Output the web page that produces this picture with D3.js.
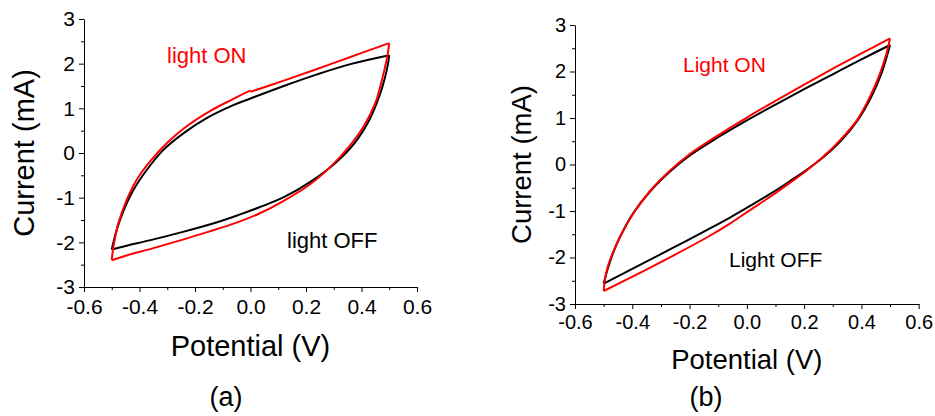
<!DOCTYPE html>
<html>
<head>
<meta charset="utf-8">
<script src="https://cdn.jsdelivr.net/npm/d3@7"></script>
<style>
  body { margin: 0; background: #fff; }
  text { font-family: "Liberation Sans", Arial, sans-serif; }
</style>
</head>
<body>
<div id="chart"></div>
<script>
// tick values
var yTicks = [-3, -2, -1, 0, 1, 2, 3]
var yMinor = [-2.5, -1.5, -0.5, 0.5, 1.5, 2.5]
var xTicks = [-0.6, -0.4, -0.2, 0.0, 0.2, 0.4, 0.6]
var xMinor = [-0.5, -0.3, -0.1, 0.1, 0.3, 0.5]

// panel (a): [potential V, current mA]; forward scan and reverse scan
var offFwdA = [[-0.50,-2.16],[-0.482,-1.72],[-0.458,-1.30],[-0.422,-0.83],[-0.374,-0.38],[-0.314,0.07],[-0.242,0.44],[-0.158,0.78],[-0.062,1.07],[0.0,1.22],[0.12,1.50],[0.24,1.76],[0.36,1.99],[0.50,2.19]]
var offRevA = [[0.50,2.19],[0.495,1.98],[0.485,1.70],[0.467,1.32],[0.43,0.76],[0.375,0.22],[0.305,-0.23],[0.22,-0.63],[0.12,-0.99],[0.03,-1.22],[-0.04,-1.38],[-0.12,-1.55],[-0.24,-1.76],[-0.36,-1.95],[-0.45,-2.08],[-0.50,-2.16]]
// light ON forward scan has a small step at 0 V
var onFwdLeftA = [[-0.50,-2.40],[-0.494,-2.10],[-0.476,-1.57],[-0.446,-1.05],[-0.41,-0.60],[-0.362,-0.19],[-0.302,0.22],[-0.23,0.60],[-0.146,0.94],[-0.062,1.21],[0.0,1.40]]
var onFwdRightA = [[0.0,1.37],[0.12,1.62],[0.24,1.88],[0.36,2.15],[0.50,2.46]]
var onRevA = [[0.50,2.46],[0.494,2.20],[0.484,1.90],[0.47,1.55],[0.45,1.12],[0.408,0.60],[0.352,0.12],[0.29,-0.30],[0.215,-0.70],[0.12,-1.07],[0.03,-1.36],[-0.05,-1.56],[-0.15,-1.76],[-0.25,-1.95],[-0.35,-2.13],[-0.45,-2.30],[-0.50,-2.40]]

// panel (b)
var offFwdB = [[-0.50,-2.56],[-0.484,-2.21],[-0.465,-1.87],[-0.443,-1.56],[-0.396,-1.04],[-0.338,-0.58],[-0.268,-0.15],[-0.198,0.20],[-0.105,0.57],[0.0,0.95],[0.1,1.29],[0.2,1.62],[0.3,1.94],[0.4,2.26],[0.50,2.57]]
var offRevB = [[0.50,2.57],[0.49,2.35],[0.47,1.96],[0.435,1.46],[0.388,0.96],[0.33,0.52],[0.27,0.17],[0.21,-0.11],[0.15,-0.36],[0.09,-0.60],[0.011,-0.89],[-0.059,-1.14],[-0.14,-1.41],[-0.257,-1.79],[-0.373,-2.16],[-0.50,-2.56]]
var onFwdB = [[-0.50,-2.72],[-0.496,-2.50],[-0.488,-2.25],[-0.47,-1.93],[-0.44,-1.52],[-0.396,-1.05],[-0.338,-0.57],[-0.268,-0.13],[-0.198,0.23],[-0.105,0.61],[0.0,1.01],[0.1,1.37],[0.2,1.72],[0.3,2.06],[0.4,2.39],[0.50,2.71]]
var onRevB = [[0.50,2.71],[0.488,2.40],[0.465,1.96],[0.43,1.46],[0.384,0.95],[0.325,0.52],[0.267,0.17],[0.209,-0.13],[0.151,-0.39],[0.092,-0.65],[0.011,-0.98],[-0.059,-1.27],[-0.14,-1.57],[-0.257,-1.96],[-0.373,-2.33],[-0.50,-2.72]]

var width = 935, height = 416

var svg = d3.select('#chart')
  .append('svg')
    .attr('width', width)
    .attr('height', height)

svg.append('rect').attr('width', width).attr('height', height).attr('fill', '#fff')

function drawPanel(p) {
  var x = d3.scaleLinear().domain([-0.6, 0.6]).range([p.left, p.right])
  var y = d3.scaleLinear().domain([-3, 3]).range([p.bottom, p.top])
  var g = svg.append('g')

  // minor ticks
  g.append('g')
    .attr('transform', 'translate(0,' + p.bottom + ')')
    .call(d3.axisBottom(x).tickValues(xMinor).tickSize(3).tickFormat(''))
    .call(a => a.select('.domain').remove())
  g.append('g')
    .attr('transform', 'translate(' + p.left + ',0)')
    .call(d3.axisLeft(y).tickValues(yMinor).tickSize(3).tickFormat(''))
    .call(a => a.select('.domain').remove())

  // major axes
  g.append('g')
    .attr('transform', 'translate(0,' + p.bottom + ')')
    .call(d3.axisBottom(x).tickValues(xTicks).tickSize(5).tickSizeOuter(0).tickPadding(p.xPad).tickFormat(d => d.toFixed(1)))
  g.append('g')
    .attr('transform', 'translate(' + p.left + ',0)')
    .call(d3.axisLeft(y).tickValues(yTicks).tickSize(5).tickSizeOuter(0).tickPadding(4).tickFormat(d => String(d)))

  g.selectAll('.tick text')
    .style('font-family', '"Liberation Sans", Arial, sans-serif')
    .style('font-size', p.tickFont + 'px')
    .attr('fill', '#000')
  g.selectAll('.domain, .tick line').attr('stroke', '#000')

  // curves, one path per scan branch
  var line = d3.line()
    .x(d => x(d[0]))
    .y(d => y(d[1]))
    .curve(d3.curveCatmullRom.alpha(0.5))

  p.series.forEach(function(s) {
    g.append('path')
      .attr('d', line(s.data))
      .attr('fill', 'none')
      .attr('stroke', s.color)
      .style('stroke-width', '2px')
      .attr('stroke-linejoin', 'round')
  })

  // axis titles
  g.append('text')
    .attr('x', (p.left + p.right) / 2)
    .attr('y', p.xTitleY)
    .attr('text-anchor', 'middle')
    .style('font-size', p.titleFont + 'px')
    .text('Potential (V)')
  g.append('text')
    .attr('transform', 'translate(' + p.yTitleX + ',' + (p.top + p.bottom) / 2 + ') rotate(-90)')
    .attr('text-anchor', 'middle')
    .style('font-size', p.titleFont + 'px')
    .text('Current (mA)')

  // labels
  g.append('text')
    .attr('x', p.onPos[0]).attr('y', p.onPos[1])
    .attr('fill', '#ff0000')
    .style('font-size', p.labelFont + 'px')
    .text(p.onText)
  g.append('text')
    .attr('x', p.offPos[0]).attr('y', p.offPos[1])
    .attr('fill', '#000')
    .style('font-size', p.labelFont + 'px')
    .text(p.offText)

  g.append('text')
    .attr('x', p.capPos[0]).attr('y', p.capPos[1])
    .attr('text-anchor', 'middle')
    .style('font-size', '27px')
    .text(p.caption)
}

drawPanel({
  left: 84, right: 417, top: 19, bottom: 287,
  xPad: 7, tickFont: 21, titleFont: 29, labelFont: 22,
  xTitleY: 356, yTitleX: 34,
  onPos: [167, 63], offPos: [287, 248], capPos: [226, 406],
  onText: 'light ON', offText: 'light OFF', caption: '(a)',
  series: [
    {data: offFwdA, color: '#000'}, {data: offRevA, color: '#000'},
    {data: onFwdLeftA, color: '#ff0000'}, {data: onFwdRightA, color: '#ff0000'},
    {data: onRevA, color: '#ff0000'}
  ]
})

drawPanel({
  left: 575, right: 918.7, top: 25, bottom: 304,
  xPad: 6, tickFont: 20, titleFont: 27.5, labelFont: 21,
  xTitleY: 369, yTitleX: 531,
  onPos: [683, 72], offPos: [729, 267], capPos: [706, 406],
  onText: 'Light ON', offText: 'Light OFF', caption: '(b)',
  series: [
    {data: offFwdB, color: '#000'}, {data: offRevB, color: '#000'},
    {data: onFwdB, color: '#ff0000'}, {data: onRevB, color: '#ff0000'}
  ]
})
</script>
</body>
</html>
